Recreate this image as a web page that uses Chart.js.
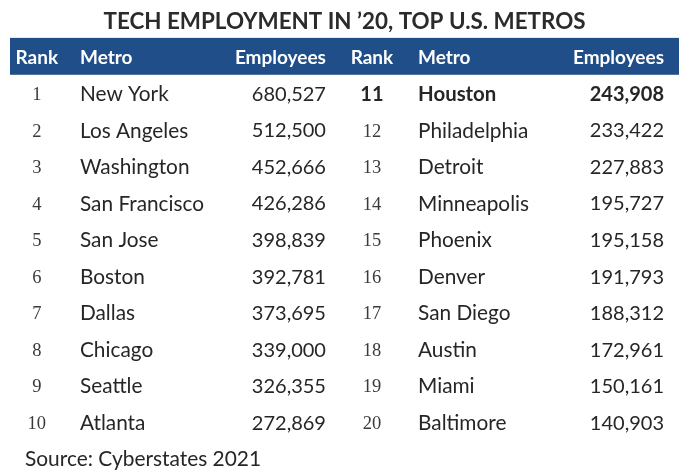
<!DOCTYPE html>
<html>
<head>
<meta charset="utf-8">
<script src="https://cdn.jsdelivr.net/npm/chart.js@4.4.1/dist/chart.umd.min.js"></script>
<style>
  html, body { margin: 0; padding: 0; background: #fff; }
  #wrap { width: 691px; height: 474px; position: relative; }
</style>
</head>
<body>
<div id="wrap"><canvas id="tabla"></canvas></div>
<script>
// Datos de la tabla
const titulo = "TECH EMPLOYMENT IN \u201920, TOP U.S. METROS";
const encabezados = ["Rank", "Metro", "Employees"];
const ranks = [1, 2, 3, 4, 5, 6, 7, 8, 9, 10, 11, 12, 13, 14, 15, 16, 17, 18, 19, 20];
const metros = [
  "New York", "Los Angeles", "Washington", "San Francisco", "San Jose",
  "Boston", "Dallas", "Chicago", "Seattle", "Atlanta",
  "Houston", "Philadelphia", "Detroit", "Minneapolis", "Phoenix",
  "Denver", "San Diego", "Austin", "Miami", "Baltimore"
];
const employees = [
  680527, 512500, 452666, 426286, 398839, 392781, 373695, 339000, 326355, 272869,
  243908, 233422, 227883, 195727, 195158, 191793, 188312, 172961, 150161, 140903
];
const destacado = [11]; // filas en negrita
const fuente = "Source: Cyberstates 2021";

// posiciones de columnas en unidades de la escala x (0-100)
const colRank = [4.0, 54.1];
const colMetro = [10.46, 60.99];
const colEmp = [47.23, 97.76];

const AZUL = "#1F4E89";
const TEXTO = "#262626";

const tablaPlugin = {
  id: "tablaPlugin",
  afterDatasetsDraw(chart) {
    const ctx = chart.ctx;
    const x = chart.scales.x;
    const y = chart.scales.y;
    ctx.save();

    // barra de encabezado
    const top = y.getPixelForValue(-0.52);
    const bot = y.getPixelForValue(0.49);
    ctx.fillStyle = AZUL;
    ctx.fillRect(x.getPixelForValue(0), top, x.getPixelForValue(100) - x.getPixelForValue(0), bot - top);

    ctx.textBaseline = "middle";
    ctx.fillStyle = "#ffffff";
    ctx.font = "bold 19px Lato";
    for (let b = 0; b < 2; b++) {
      const yy = y.getPixelForValue(0) + 1;
      ctx.textAlign = "center";
      ctx.fillText(encabezados[0], x.getPixelForValue(colRank[b]), yy);
      ctx.textAlign = "left";
      ctx.fillText(encabezados[1], x.getPixelForValue(colMetro[b]), yy);
      ctx.textAlign = "right";
      ctx.fillText(encabezados[2], x.getPixelForValue(colEmp[b]), yy);
    }

    // filas
    ranks.forEach((r, i) => {
      const b = Math.floor(i / 10);
      const fila = (i % 10) + 1;
      const yy = y.getPixelForValue(fila) + 1;
      const bold = destacado.includes(r);
      ctx.fillStyle = bold ? TEXTO : "#3a3a3a";
      ctx.textAlign = "center";
      ctx.font = bold ? "bold 20px Lato" : "18.5px 'Liberation Serif'";
      ctx.fillText(String(r), x.getPixelForValue(colRank[b]), yy + (bold ? 0 : 1));
      ctx.fillStyle = TEXTO;
      ctx.font = bold ? "bold 20.4px Lato" : "20.8px Lato";
      ctx.textAlign = "left";
      ctx.fillText(metros[i], x.getPixelForValue(colMetro[b]), yy);
      ctx.font = bold ? "bold 20px Lato" : "20px Lato";
      ctx.textAlign = "right";
      ctx.fillText(employees[i].toLocaleString("en-US"), x.getPixelForValue(colEmp[b]), yy);
    });

    // fuente
    ctx.fillStyle = TEXTO;
    ctx.font = "20.9px Lato";
    ctx.textAlign = "left";
    ctx.fillText(fuente, x.getPixelForValue(2.24), y.getPixelForValue(11) + 1);
    ctx.restore();
  }
};

function renderTabla() {
  new Chart(document.getElementById("tabla"), {
    type: "scatter",
    data: { datasets: [{ data: [], pointRadius: 0 }] },
    options: {
      responsive: true,
      maintainAspectRatio: false,
      animation: false,
      devicePixelRatio: 1,
      layout: { padding: { left: 10, right: 12, top: 0, bottom: 8 } },
      scales: {
        x: { type: "linear", display: false, min: 0, max: 100 },
        y: { type: "linear", display: false, reverse: true, min: -0.52, max: 11.2 }
      },
      plugins: {
        legend: { display: false },
        tooltip: { enabled: false },
        title: {
          display: true,
          text: titulo,
          color: "#2b2b2b",
          font: { family: "Lato", size: 22.4, weight: "bold" },
          padding: { top: 8, bottom: 3 }
        }
      }
    },
    plugins: [tablaPlugin]
  });
}

Promise.all([
  document.fonts.load("20px Lato"),
  document.fonts.load("bold 20px Lato"),
  document.fonts.load("18px 'Liberation Serif'")
]).then(renderTabla, renderTabla);
</script>
</body>
</html>
